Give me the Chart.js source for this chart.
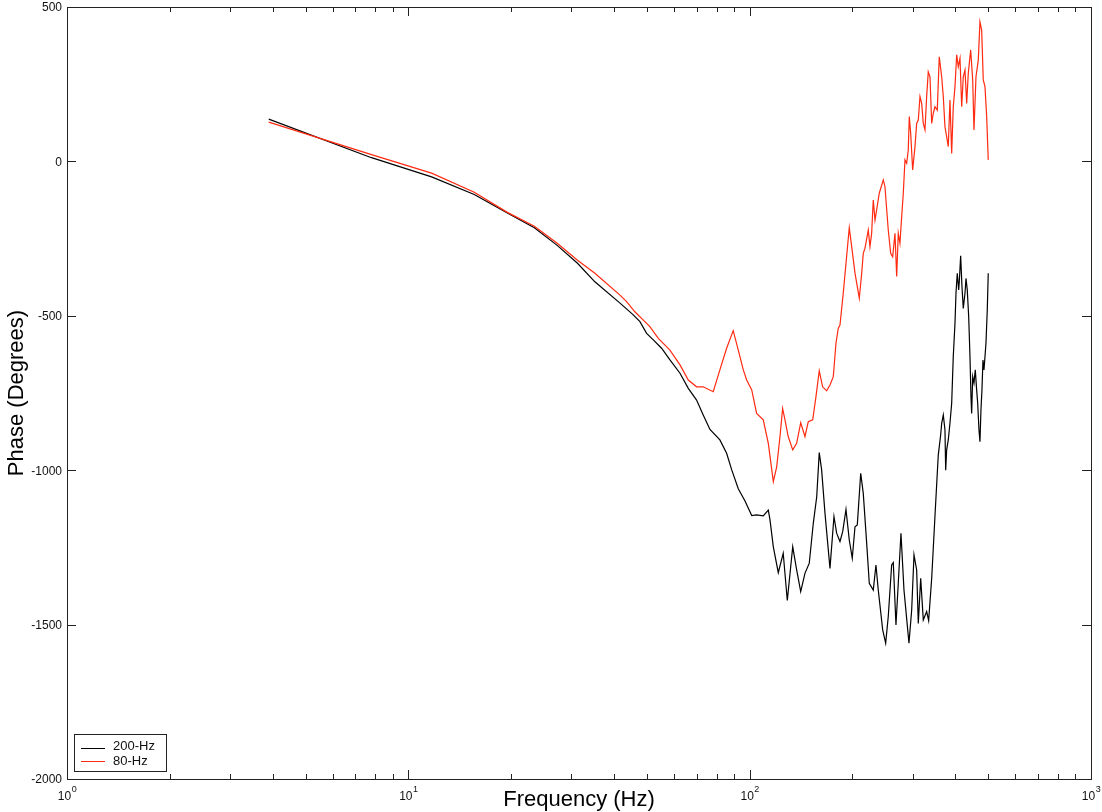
<!DOCTYPE html>
<html>
<head>
<title>Phase vs Frequency</title>
<script src="https://cdn.jsdelivr.net/npm/chart.js"></script>
<style>
  body { margin: 0; background: #fff; }
  #wrap { width: 1102px; height: 812px; }
</style>
</head>
<body>
<div id="wrap"><canvas id="phaseChart" width="1102" height="812"></canvas></div>
<script>
// 200-Hz run (black)
const freq200 = [3.9, 7.8, 11.7, 15.6, 19.5, 23.4, 27.3, 31.3, 35.2,
  41.7, 45.6, 47.7, 49.9, 52.2, 55.2, 58.4, 62.5, 66.1, 69.9,
  73.1, 76.5, 81.8, 85.6, 88.6, 92.6, 96.9, 101.4, 104.8, 109.6,
  113.4, 114.7, 117.3, 121.3, 125.4, 128.9, 133.7, 137.3, 141.1, 145.2,
  149.5, 153.6, 157.2, 159.9, 162.5, 166.2, 171.9, 176.6, 179.8, 183.9,
  187.3, 191.5, 195.8, 199.8, 203.5, 206.7, 211.5, 215.2, 220.2, 224.1,
  230.2, 234.4, 238.1, 245.3, 250.3, 254.7, 260.6, 263.5, 268.3, 272.5,
  277.5, 283.2, 292.9, 298.3, 303, 308.5, 311.9, 317, 322.6, 330,
  334.5, 341.4, 349, 356.9, 362.7, 365.2, 369.2, 373.4, 375.2, 377.7,
  381.8, 386.2, 390.7, 394.9, 399.5, 402.2, 405.7, 409.6, 411.3, 415.1,
  418.8, 422.5, 427.4, 430.3, 434, 438.2, 442, 445, 447.1, 450.2,
  454.1, 458.1, 462.4, 465.6, 469.7, 472.8, 476, 479.2, 482.5, 485.8,
  489.1, 492.4, 496.7, 500];
const phase200 = [137, 12, -50, -107, -167, -215, -272, -330, -390,
  -459, -497, -519, -557, -578, -605, -643, -686, -735, -773,
  -821, -868, -902, -945, -999, -1060, -1100, -1147, -1145, -1148,
  -1129, -1161, -1248, -1332, -1269, -1422, -1248, -1323, -1393, -1334,
  -1301, -1172, -1086, -943, -999, -1139, -1318, -1150, -1204, -1231,
  -1199, -1127, -1226, -1285, -1183, -1177, -1010, -1075, -1237, -1366,
  -1388, -1307, -1388, -1517, -1560, -1474, -1307, -1299, -1501, -1366,
  -1204, -1388, -1560, -1453, -1274, -1323, -1496, -1350, -1485, -1458,
  -1487, -1350, -1150, -951, -886, -848, -821, -870, -1000, -934,
  -902, -848, -783, -632, -524, -427, -362, -416, -390, -306,
  -406, -476, -427, -379, -416, -503, -632, -762, -816, -697,
  -718, -675, -740, -783, -870, -908, -805, -740, -643, -675,
  -632, -589, -481, -362];

// 80-Hz run (red)
const freq80 = [3.9, 7.8, 11.7, 15.6, 19.5, 23.4, 27.3, 31.3, 35.2,
  41.7, 43.6, 46.1, 48.8, 51.0, 54.0, 58.4, 62.5, 66.1, 69.9,
  73.1, 78.2, 81.8, 85.6, 89.5, 92.6, 95.8, 98.0, 101.4, 104.8,
  109.6, 113.4, 117.3, 120.0, 122.7, 124.9, 126.9, 129.7, 133.7, 137.3,
  141.1, 145.2, 148.5, 153.0, 156.4, 159.9, 163.6, 168.1, 171.9, 175.8,
  179.0, 181.8, 183.9, 188.0, 195.8, 199.0, 203.5, 209.5, 212.9, 215.2,
  217.7, 222.6, 225.1, 227.7, 230.2, 232.9, 235.5, 239.7, 246.3, 249.1,
  254.7, 258.9, 262.4, 266.5, 269.6, 272.5, 275.6, 278.8, 281.9, 285.1,
  288.4, 291.5, 293.5, 296.3, 300.3, 305.0, 308.5, 311.9, 315.5, 319.1,
  322.6, 326.3, 330.0, 333.6, 337.5, 341.4, 345.1, 349.0, 354.5, 359.3,
  365.2, 369.2, 373.4, 377.7, 381.8, 386.2, 390.7, 394.9, 399.5, 404.1,
  408.5, 413.2, 418.0, 422.5, 427.4, 432.3, 437.0, 444.1, 450.2, 454.1,
  460.3, 467.5, 472.8, 478.3, 483.5, 489.1, 494.7, 500];
const phase80 = [127, 22, -38, -100, -165, -210, -265, -320, -362,
  -433, -454, -487, -514, -535, -573, -611, -659, -708, -730,
  -730, -746, -675, -605, -548, -611, -675, -708, -740, -816,
  -837, -913, -1037, -989, -891, -800, -837, -891, -934, -913,
  -846, -891, -843, -837, -762, -678, -730, -743, -724, -697,
  -589, -540, -530, -427, -215, -276, -362, -443, -362, -298,
  -281, -222, -276, -233, -125, -190, -157, -103, -60, -82,
  -222, -298, -309, -233, -373, -233, -265, -179, -103, 5,
  -6, 37, 145, 91, -28, 48, 123, 134, 210, 188,
  123, 102, 210, 290, 274, 123, 156, 177, 166, 339,
  274, 210, 112, 80, 48, 199, 26, 177, 242, 345,
  307, 334, 177, 274, 296, 188, 285, 361, 264, 102,
  274, 328, 452, 425, 264, 242, 145, 5];

const yTicks = [500, 0, -500, -1000, -1500, -2000];
const xDecades = [0, 1, 2, 3];

function pts(fs, ps) {
  return fs.map((f, i) => ({ x: f, y: ps[i] }));
}

// frame, inward ticks, tick labels, axis titles and boxed legend
const framePlugin = {
  id: 'frame',
  afterDraw(chart) {
    const ctx = chart.ctx;
    const a = chart.chartArea;
    const xs = chart.scales.x, ys = chart.scales.y;
    const font = '"Liberation Sans", Arial, sans-serif';
    ctx.save();
    ctx.strokeStyle = '#222';
    ctx.lineWidth = 1;
    ctx.strokeRect(a.left + 0.5, a.top + 0.5, a.right - a.left, a.bottom - a.top);

    ctx.beginPath();
    yTicks.forEach(v => {
      const py = Math.round(ys.getPixelForValue(v)) + 0.5;
      ctx.moveTo(a.left, py); ctx.lineTo(a.left + 9, py);
      ctx.moveTo(a.right, py); ctx.lineTo(a.right - 9, py);
    });
    xDecades.forEach(d => {
      for (let m = 1; m <= 9; m++) {
        if (d === 3 && m > 1) break;
        const px = Math.round(xs.getPixelForValue(m * Math.pow(10, d))) + 0.5;
        const len = m === 1 ? 9 : 5;
        ctx.moveTo(px, a.bottom); ctx.lineTo(px, a.bottom - len);
        ctx.moveTo(px, a.top); ctx.lineTo(px, a.top + len);
      }
    });
    ctx.stroke();

    ctx.fillStyle = '#111';
    ctx.font = '12px ' + font;
    ctx.textAlign = 'right';
    ctx.textBaseline = 'middle';
    yTicks.forEach(v => {
      ctx.fillText(String(v), a.left - 5, ys.getPixelForValue(v) + 1);
    });

    ctx.textBaseline = 'alphabetic';
    ctx.textAlign = 'left';
    xDecades.forEach(d => {
      const px = xs.getPixelForValue(Math.pow(10, d));
      ctx.font = '12px ' + font;
      const w1 = ctx.measureText('10').width;
      ctx.font = '9px ' + font;
      const w2 = ctx.measureText(String(d)).width;
      const x0 = px - (w1 + w2) / 2;
      ctx.font = '12px ' + font;
      ctx.fillText('10', x0, 800);
      ctx.font = '9px ' + font;
      ctx.fillText(String(d), x0 + w1 + 0.5, 792);
    });

    ctx.fillStyle = '#000';
    ctx.font = '22px ' + font;
    ctx.textAlign = 'center';
    ctx.fillText('Frequency (Hz)', (a.left + a.right) / 2, 806);
    ctx.save();
    ctx.translate(23, 393);
    ctx.rotate(-Math.PI / 2);
    ctx.fillText('Phase (Degrees)', 0, 0);
    ctx.restore();

    // legend box
    ctx.fillStyle = '#fff';
    ctx.fillRect(74.5, 734.5, 92, 37);
    ctx.strokeStyle = '#222';
    ctx.strokeRect(74.5, 734.5, 92, 37);
    const rows = [748, 761];
    ctx.font = '13px ' + font;
    ctx.textAlign = 'left';
    ctx.textBaseline = 'middle';
    chart.data.datasets.forEach((ds, i) => {
      ctx.strokeStyle = ds.borderColor;
      ctx.beginPath();
      ctx.moveTo(81, rows[i] + 0.5); ctx.lineTo(105, rows[i] + 0.5);
      ctx.stroke();
      ctx.fillStyle = '#111';
      ctx.fillText(ds.label, 113, rows[i] - (i === 0 ? 2 : 0));
    });
    ctx.restore();
  }
};

new Chart(document.getElementById('phaseChart'), {
  type: 'scatter',
  data: {
    datasets: [
      { label: '200-Hz', data: pts(freq200, phase200), showLine: true,
        borderColor: '#000000', borderWidth: 1.2, pointRadius: 0, order: 1 },
      { label: '80-Hz', data: pts(freq80, phase80), showLine: true,
        borderColor: '#ff2a10', borderWidth: 1.2, pointRadius: 0, order: 0 }
    ]
  },
  options: {
    responsive: false,
    animation: false,
    layout: { padding: { left: 67, right: 11, top: 7, bottom: 33 } },
    scales: {
      x: { type: 'logarithmic', min: 1, max: 1000, display: false },
      y: { type: 'linear', min: -2000, max: 500, display: false }
    },
    plugins: { legend: { display: false }, tooltip: { enabled: false } }
  },
  plugins: [framePlugin]
});
</script>
</body>
</html>
